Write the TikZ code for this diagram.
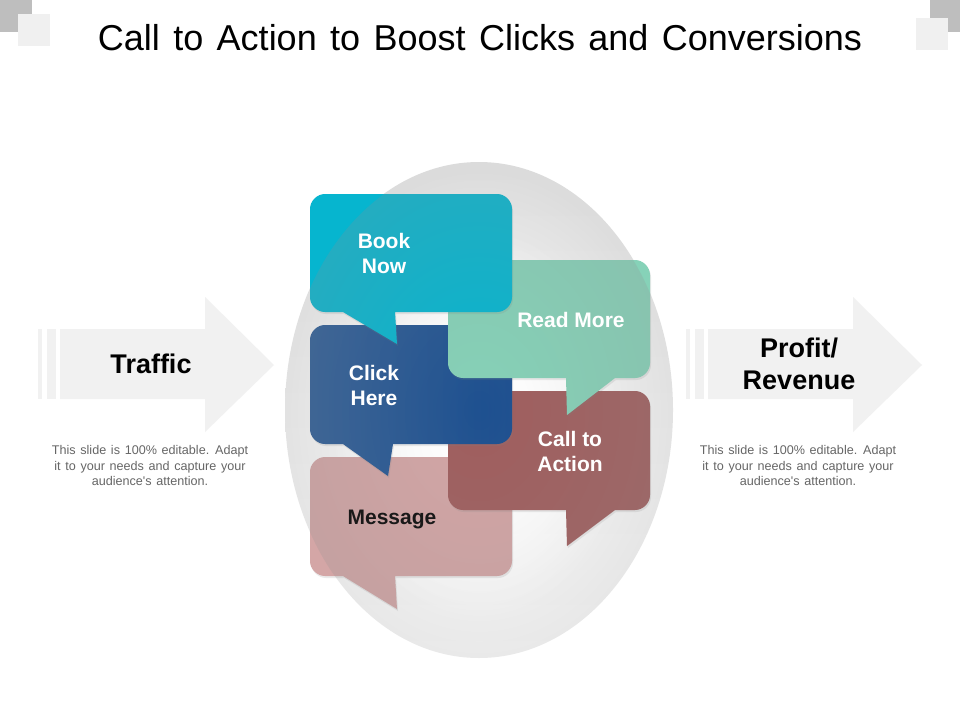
\documentclass[tikz,border=0pt]{standalone}
\usepackage{fontspec}
\setmainfont{Liberation Sans}
\newfontfamily\titlefam[WordSpace=1.25]{Liberation Sans}
\newfontfamily\notefam[WordSpace=1.34]{Liberation Sans}
\usetikzlibrary{shadows,fadings}
\definecolor{eggtop}{HTML}{DBDBDB}
\definecolor{eggbottom}{HTML}{E9E9E9}
\definecolor{eggtint}{HTML}{909090}
\definecolor{arrowgray}{HTML}{F1F1F1}
\definecolor{cornerdark}{HTML}{BEBEBE}
\definecolor{cornerlight}{HTML}{F0F0F0}
\definecolor{bookc}{HTML}{06B5CF}
\definecolor{readc}{HTML}{86D2B8}
\definecolor{clickl}{HTML}{2C5C96}
\definecolor{clickr}{HTML}{1C4F90}
\definecolor{callc}{HTML}{A05E5E}
\definecolor{msgc}{HTML}{D4A6A6}
\definecolor{smalltext}{HTML}{666666}
\tikzfading[name=eggfade, inner color=transparent!100, outer color=transparent!78]
\tikzfading[name=eggglow, inner color=transparent!0, outer color=transparent!100]
\tikzset{
  x=1pt,y=-1pt,
  bubble/.style={draw=none,drop shadow={opacity=.16,shadow xshift=1pt,shadow yshift=-2pt}},
  flatarrow/.style={fill=arrowgray,draw=none},
  blabel/.style={font=\fontsize{21}{25}\selectfont\bfseries,text=white,align=center,inner sep=0pt},
  biglabel/.style={font=\fontsize{27}{32}\selectfont\bfseries,text=black,align=center,inner sep=0pt},
  note/.style={font=\notefam\fontsize{12.6}{15.5}\selectfont,text=smalltext,align=center,inner sep=0pt},
}
% #1 left, #2 top, #3 right, #4 bottom, #5 tail left x, #6 tail right x, #7 tip x, #8 tip y
\newcommand\bubbleoutline[8]{%
  (#5,#4) -- (#1+15,#4) .. controls (#1+7,#4) and (#1,#4-7) .. (#1,#4-15)
  -- (#1,#2+15) .. controls (#1,#2+7) and (#1+7,#2) .. (#1+15,#2)
  -- (#3-15,#2) .. controls (#3-7,#2) and (#3,#2+7) .. (#3,#2+15)
  -- (#3,#4-15) .. controls (#3,#4-7) and (#3-7,#4) .. (#3-15,#4)
  -- (#6,#4) -- (#7,#8) -- cycle}
\newcommand\speechbubble[9]{%
  \path[bubble,#1] \bubbleoutline{#2}{#3}{#4}{#5}{#6}{#7}{#8}{#9};
  \begin{scope}
    \clip \bubbleoutline{#2}{#3}{#4}{#5}{#6}{#7}{#8}{#9};
    \path[fill=eggtint,path fading=eggfade] (479,410) ellipse [x radius=194,y radius=248];
  \end{scope}}
\newcommand\flatarrowshape[1]{%
  \begin{scope}[xshift=#1]
    \path[flatarrow] (38,329) rectangle (42,399);
    \path[flatarrow] (47,329) rectangle (56,399);
    \path[flatarrow] (60,329) -- (205,329) -- (205,297) -- (274,365) -- (205,432) -- (205,399) -- (60,399) -- cycle;
  \end{scope}}
\begin{document}
\begin{tikzpicture}
\useasboundingbox (0,0) rectangle (960,720);
\fill[white] (0,0) rectangle (960,720);
% corners
\fill[cornerdark] (0,0) rectangle (32,32);
\fill[cornerlight] (18,14) rectangle (50,46);
\fill[cornerdark] (930,0) rectangle (960,32);
\fill[cornerlight] (916,18) rectangle (948,50);
\node[font=\titlefam\fontsize{36}{42}\selectfont,text=black,inner sep=0pt] (title) at (480,38) {Call to Action to Boost Clicks and Conversions};
% arrows
\flatarrowshape{0pt}
\flatarrowshape{648pt}
% egg
\path[top color=eggtop,bottom color=eggbottom] (479,410) ellipse [x radius=194,y radius=248];
\path[fill=white,path fading=eggglow] (479,415) ellipse [x radius=194,y radius=248];
\path[fill=white,path fading=eggglow] (479,425) ellipse [x radius=150,y radius=200];
% bubbles
\speechbubble{fill=msgc}{310}{457}{512}{576}{343}{395}{397}{609}
\speechbubble{fill=callc}{448}{391}{650}{510}{566}{615}{567}{546}
\speechbubble{left color=clickl,right color=clickr}{310}{325}{512}{444}{343}{393}{388}{476}
\speechbubble{fill=readc}{448}{260}{650}{378}{566}{615}{567}{415}
\speechbubble{fill=bookc}{310}{194}{512}{312}{343}{395}{397}{344}
% labels
\node[blabel] (book) at (384,253) {Book\\Now};
\node[blabel] (read) at (571,320) {Read More};
\node[blabel] (click) at (374,385) {Click\\Here};
\node[blabel] (call) at (570,451) {Call to\\Action};
\node[blabel,text=black!90] (msg) at (392,519) {Message};
\node[biglabel] (traffic) at (151,364) {Traffic};
\node[biglabel] (profit) at (799,364) {Profit/\\Revenue};
\node[note] (noteL) at (150,465.5) {This slide is 100\% editable. Adapt\\it to your needs and capture your\\audience's attention.};
\node[note] (noteR) at (798,465.5) {This slide is 100\% editable. Adapt\\it to your needs and capture your\\audience's attention.};
\end{tikzpicture}
\end{document}
